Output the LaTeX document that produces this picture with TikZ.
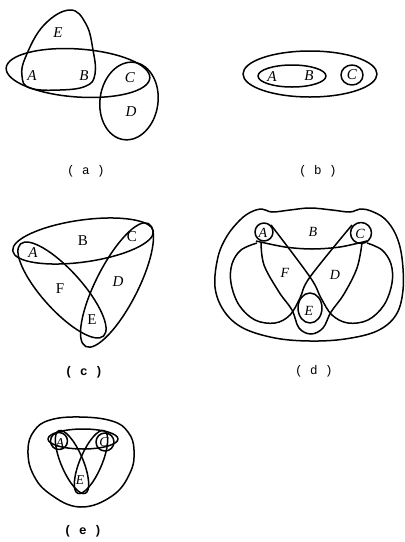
\documentclass[tikz,border=0pt]{standalone}
\usepackage{fontspec}
\setmainfont{Liberation Serif}
\setmonofont{Liberation Mono}
\usetikzlibrary{calc}

\begin{document}
\begin{tikzpicture}[x=1pt, y=-1pt,
  hedge/.style={line width=1.5pt, line join=round},
  vtx/.style={font=\fontsize{15}{15}\selectfont\itshape, inner sep=0pt},
  vtxup/.style={font=\fontsize{15}{15}\selectfont, inner sep=0pt},
  vtxsmall/.style={font=\fontsize{13.5}{13.5}\selectfont\itshape, inner sep=0pt},
  panel/.style={font=\fontsize{12.5}{12.5}\selectfont\ttfamily, inner sep=0pt}]
\useasboundingbox (0,0) rectangle (405,542);

% (a) two ellipses and the E dome
\draw[hedge, rotate around={-4:(78,73)}] (78,73) ellipse [x radius=72, y radius=24];
\draw[hedge] plot[smooth cycle, tension=0.7] coordinates {(70,10) (86,24) (93,50) (95,74) (86,86) (60,90) (30,88) (22,76) (26,56) (44,25)};
\draw[hedge, rotate around={-8:(129,101)}] (129,101) ellipse [x radius=29, y radius=39];
\foreach \n/\t/\x/\y in {aE/E/58/33, aA/A/32/76, aB/B/84/76, aC/C/130/78, aD/D/131/112}
  \node[vtx] (\n) at (\x,\y) {\t};
\node[panel] (capa) at (86,171) {( a )};

% (b) nested sets
\draw[hedge] (310,74) ellipse [x radius=67, y radius=23];
\draw[hedge] (292,76) ellipse [x radius=34, y radius=11];
\draw[hedge] (352,75) ellipse [x radius=11, y radius=10];
\foreach \n/\t/\x/\y in {bA/A/272/77, bB/B/309/76, bC/C/352/75}
  \node[vtx] (\n) at (\x,\y) {\t};
\node[panel] (capb) at (318,171) {( b )};

% (c) three crossing ellipses
\draw[hedge, rotate around={8:(83,241)}] (83,241) ellipse [x radius=71, y radius=21];
\draw[hedge, rotate around={-48:(62,290)}] (62,290) ellipse [x radius=62, y radius=20];
\draw[hedge, rotate around={63:(117,285)}] (117,285) ellipse [x radius=69, y radius=21];
\foreach \n/\t/\x/\y in {cB/B/83/241, cC/C/132/237, cF/F/60/289, cE/E/92/320}
  \node[vtxup] (\n) at (\x,\y) {\t};
\node[vtx] (cA) at (33,253) {A};
\node[vtx] (cD) at (118,282) {D};
\node[panel, font=\fontsize{12.5}{12.5}\selectfont\ttfamily\bfseries] (capc) at (84,372) {( c )};

% (d) outer set, lobes and triangle
\draw[hedge] plot[smooth cycle, tension=0.6] coordinates {(215,287) (218,257) (227,236) (240,220) (251,212) (262,209) (272,212) (290,210) (310,208) (332,210) (350,212) (360,209) (371,211) (385,219) (396,235) (402,258) (403,290) (396,315) (377,331) (345,339) (310,341) (275,338) (243,328) (224,311)};
\draw[hedge] (264,232) circle [radius=9];
\draw[hedge] (361,233) circle [radius=10.5];
\draw[hedge] (310,308) ellipse [x radius=12, y radius=15];
\draw[hedge] plot[smooth] coordinates {(256,241) (285,247) (312,249) (340,247) (367,241)};
% triangle A--E--C
\draw[hedge] plot[smooth, tension=0.6] coordinates {(261,242) (264,265) (279,292) (292,310) (299,328) (311,334) (323,328) (331,312) (344,294) (357,268) (362,243)};
% left lobe from C, right lobe from A
\draw[hedge] plot[smooth, tension=0.6] coordinates {(352,225) (310,277) (300,298) (290,315) (275,323) (255,320) (239,305) (231,283) (232,264) (241,250) (257,243)};
\draw[hedge] plot[smooth, tension=0.6] coordinates {(271,225) (310,277) (321,298) (332,315) (348,323) (368,320) (384,305) (392,283) (391,264) (382,250) (367,243)};
\foreach \n/\t/\x/\y in {dA/A/263/233, dB/B/313/232, dC/C/360/234, dF/F/285/273, dD/D/335/275, dE/E/309/311}
  \node[vtx, font=\fontsize{14}{14}\selectfont\itshape] (\n) at (\x,\y) {\t};
\node[panel] (capd) at (314,371) {( d )};

% (e) small version of (c) inside one set
\draw[hedge] plot[smooth cycle, tension=0.7] coordinates {(80,417) (112,421) (128,432) (134,450) (130,473) (112,496) (80,507) (50,494) (33,474) (28,450) (34,431) (50,420)};
\draw[hedge] (83,439) ellipse [x radius=35, y radius=10];
\draw[hedge, rotate around={-67:(72,462)}] (72,462) ellipse [x radius=34, y radius=11];
\draw[hedge, rotate around={67:(91,462)}] (91,462) ellipse [x radius=34, y radius=11];
\draw[hedge] (59,441) circle [radius=8.5];
\draw[hedge] (105,442) circle [radius=9];
\foreach \n/\t/\x/\y in {eA/A/60/443, eC/C/104/442, eE/E/80/480}
  \node[vtxsmall] (\n) at (\x,\y) {\t};
\node[panel, font=\fontsize{12.5}{12.5}\selectfont\ttfamily\bfseries] (cape) at (83,531) {( e )};
\end{tikzpicture}
\end{document}
